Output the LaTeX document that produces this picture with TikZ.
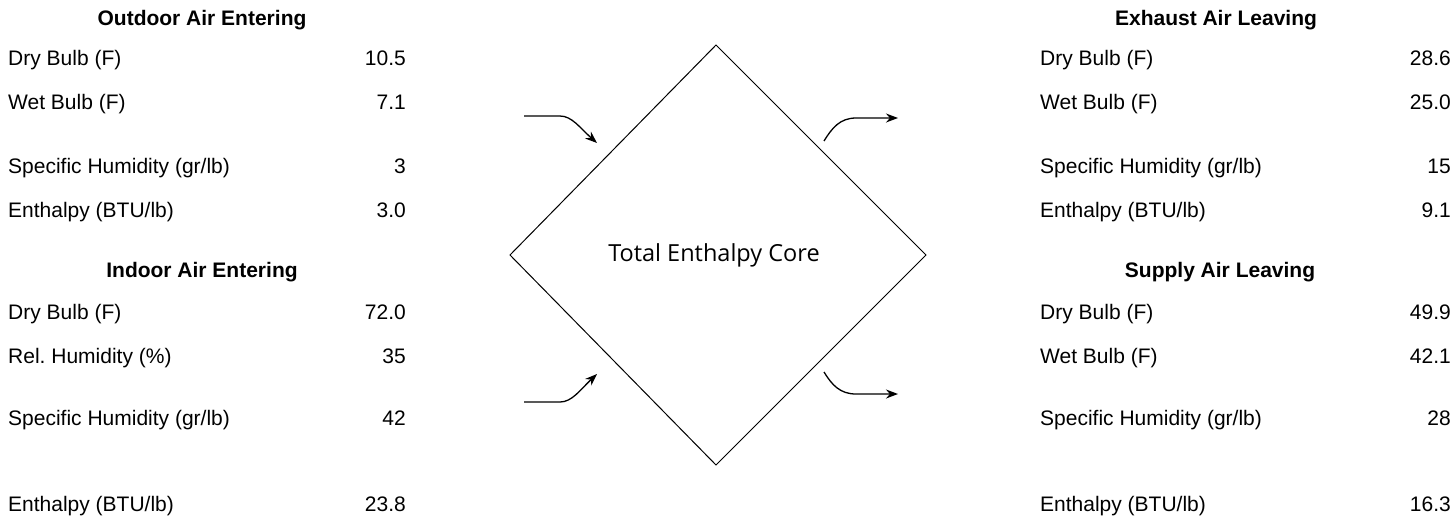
\documentclass[tikz,border=0pt]{standalone}
\usepackage{fontspec}
\setmainfont{Liberation Sans}
\newfontfamily\corefont{Open Sans}
\usetikzlibrary{arrows.meta}
\frenchspacing
\begin{document}
\begin{tikzpicture}[x=1pt,y=-1pt,
  every node/.style={inner sep=0pt,font=\fontsize{21}{25}\selectfont},
  lbl/.style={anchor=base west},
  val/.style={anchor=base east},
  hd/.style={anchor=base,font=\fontsize{21}{25}\selectfont\bfseries},
  core/.style={draw,line width=1pt},
  flow/.style={line width=1.3pt,-{Stealth[length=12pt,width=9pt]}}]
\useasboundingbox (0,0) rectangle (1456,517);
% left column
\node[hd] (h1) at (202,25.5) {Outdoor Air Entering};
\node[lbl] (l1) at (8,65.5) {Dry Bulb (F)};
\node[val] (v1) at (406,65.5) {10.5};
\node[lbl] (l2) at (8,109.5) {Wet Bulb (F)};
\node[val] (v2) at (406,109.5) {7.1};
\node[lbl] (l3) at (8,173.5) {Specific Humidity (gr/lb)};
\node[val] (v3) at (406,173.5) {3};
\node[lbl] (l4) at (8,217.5) {Enthalpy (BTU/lb)};
\node[val] (v4) at (406,217.5) {3.0};
\node[hd] (h2) at (202,277.5) {Indoor Air Entering};
\node[lbl] (l5) at (8,319.5) {Dry Bulb (F)};
\node[val] (v5) at (406,319.5) {72.0};
\node[lbl] (l6) at (8,363.5) {Rel. Humidity (\%)};
\node[val] (v6) at (406,363.5) {35};
\node[lbl] (l7) at (8,425.5) {Specific Humidity (gr/lb)};
\node[val] (v7) at (406,425.5) {42};
\node[lbl] (l8) at (8,511.5) {Enthalpy (BTU/lb)};
\node[val] (v8) at (406,511.5) {23.8};
% right column
\node[hd] (h3) at (1216,25.5) {Exhaust Air Leaving};
\node[lbl] (r1) at (1040,65.5) {Dry Bulb (F)};
\node[val] (w1) at (1451,65.5) {28.6};
\node[lbl] (r2) at (1040,109.5) {Wet Bulb (F)};
\node[val] (w2) at (1451,109.5) {25.0};
\node[lbl] (r3) at (1040,173.5) {Specific Humidity (gr/lb)};
\node[val] (w3) at (1451,173.5) {15};
\node[lbl] (r4) at (1040,217.5) {Enthalpy (BTU/lb)};
\node[val] (w4) at (1451,217.5) {9.1};
\node[hd] (h4) at (1220,277.5) {Supply Air Leaving};
\node[lbl] (r5) at (1040,319.5) {Dry Bulb (F)};
\node[val] (w5) at (1451,319.5) {49.9};
\node[lbl] (r6) at (1040,363.5) {Wet Bulb (F)};
\node[val] (w6) at (1451,363.5) {42.1};
\node[lbl] (r7) at (1040,425.5) {Specific Humidity (gr/lb)};
\node[val] (w7) at (1451,425.5) {28};
\node[lbl] (r8) at (1040,511.5) {Enthalpy (BTU/lb)};
\node[val] (w8) at (1451,511.5) {16.3};
% core
\coordinate (ct) at (716,45);
\coordinate (cr) at (926,255);
\coordinate (cb) at (716,465);
\coordinate (cl) at (510,255);
\draw[core] (ct) -- (cr) -- (cb) -- (cl) -- cycle;
\node[font=\corefont\fontsize{23.5}{28}\selectfont] (core) at (714,255) {Total Enthalpy Core};
% arrows
\coordinate (a1s) at (524,116); \coordinate (a1m) at (560,116); \coordinate (a1e) at (597,143);
\coordinate (a2s) at (524,402); \coordinate (a2m) at (560,402); \coordinate (a2e) at (597,374);
\coordinate (a3s) at (824,141); \coordinate (a3m) at (856,118); \coordinate (a3e) at (898,118);
\coordinate (a4s) at (824,372); \coordinate (a4m) at (856,394); \coordinate (a4e) at (898,394);
\draw[flow] (a1s) -- (a1m) .. controls (572,116) and (580,128) .. (a1e);
\draw[flow] (a2s) -- (a2m) .. controls (572,402) and (580,390) .. (a2e);
\draw[flow] (a3s) .. controls (832,128) and (840,118) .. (a3m) -- (a3e);
\draw[flow] (a4s) .. controls (832,385) and (840,394) .. (a4m) -- (a4e);
\end{tikzpicture}
\end{document}
